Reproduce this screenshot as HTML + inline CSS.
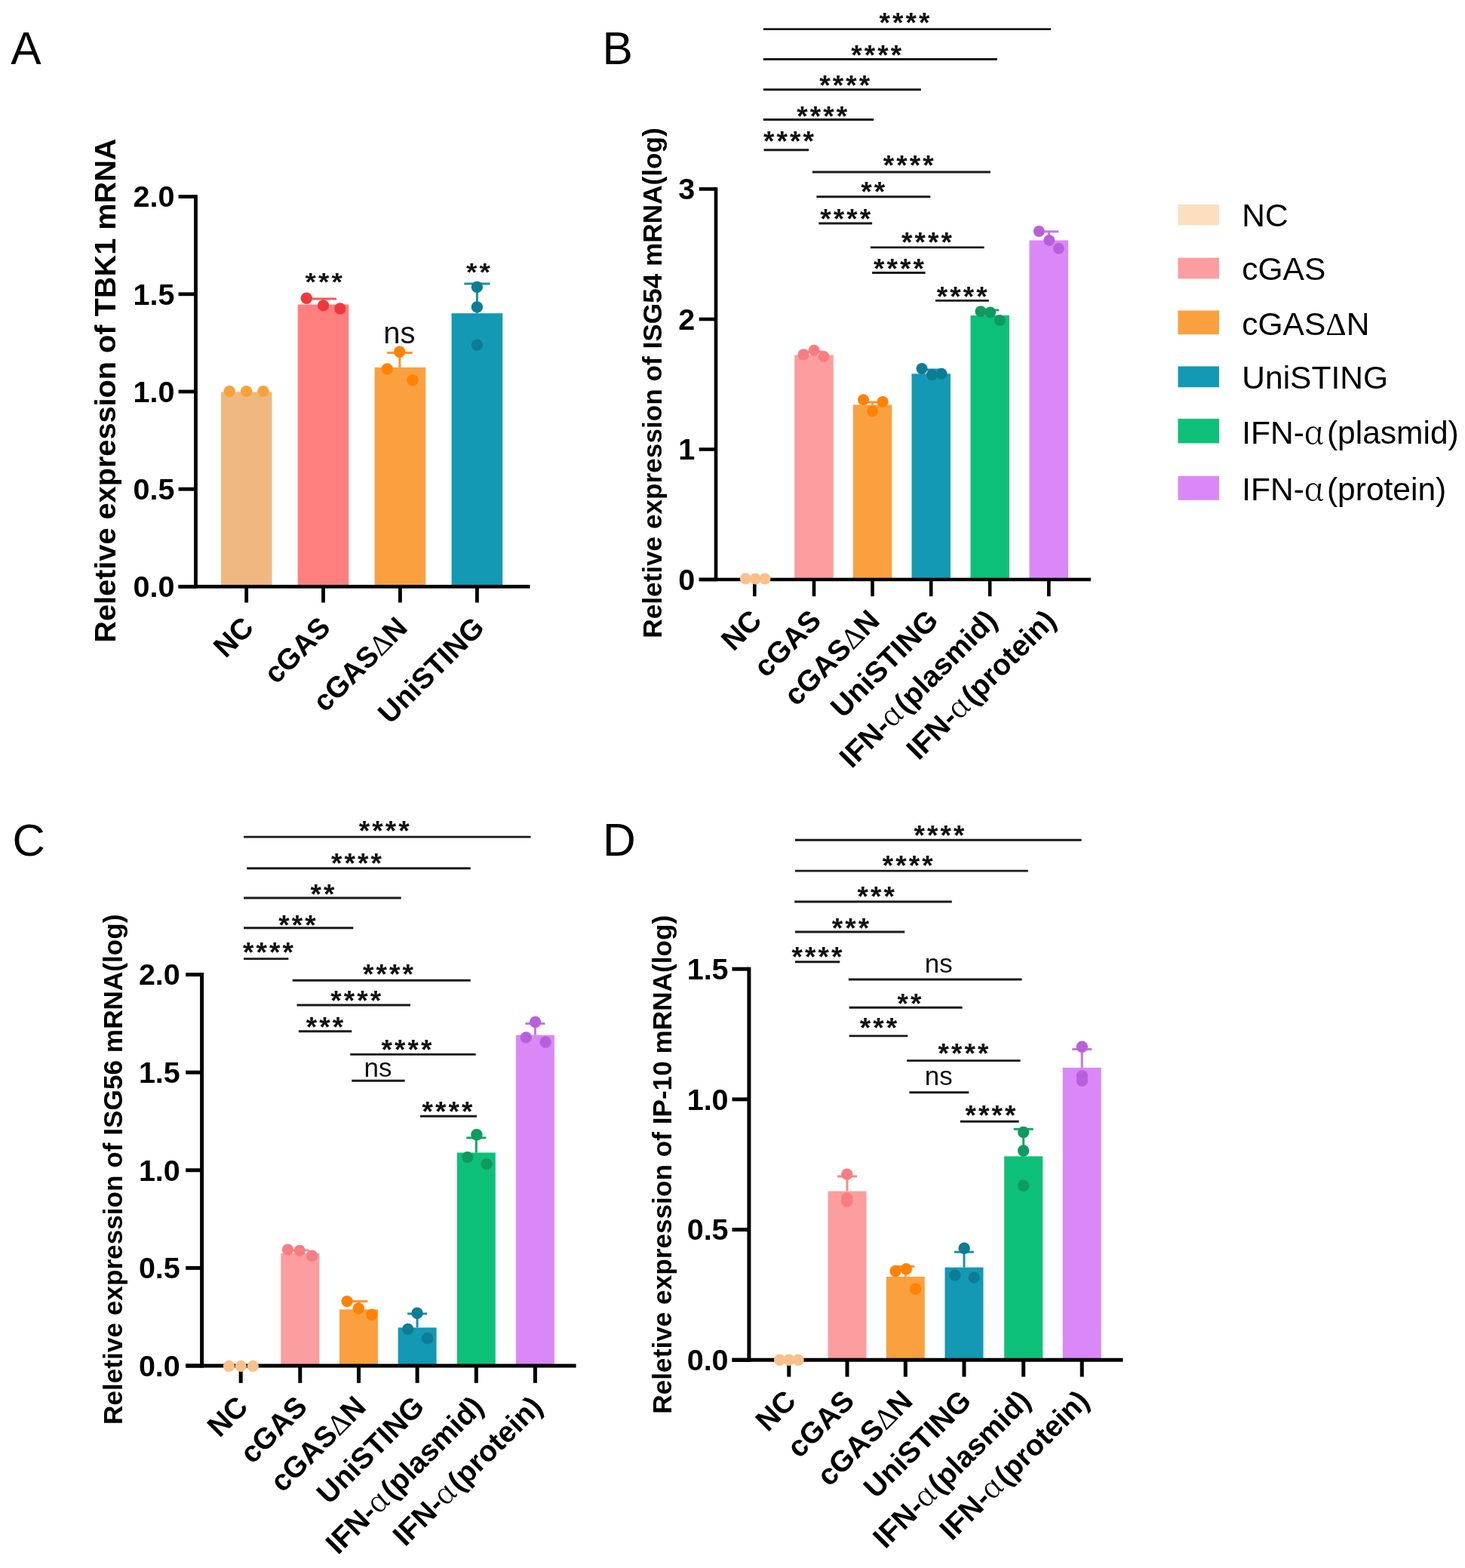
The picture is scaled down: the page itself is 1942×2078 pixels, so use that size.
<!DOCTYPE html>
<html><head><meta charset="utf-8"><title>Figure</title>
<style>html,body{margin:0;padding:0;background:#fff;width:1942px;height:2078px;overflow:hidden}svg{display:block}</style>
</head><body>
<svg width="1942" height="2078" viewBox="0 0 1942 2078" font-family="Liberation Sans, Arial, Helvetica, sans-serif">
<rect width="1942" height="2078" fill="#fff"/>
<rect x="292.9" y="519.5" width="67.6" height="257.9" fill="#F0B880"/>
<rect x="394.7" y="403.6" width="67.6" height="373.8" fill="#FF7F7F"/>
<rect x="496.6" y="486.9" width="67.6" height="290.5" fill="#FBA03F"/>
<rect x="598.6" y="415.2" width="67.6" height="362.2" fill="#1399B3"/>
<line x1="411.0" y1="395.9" x2="446.0" y2="395.9" stroke="#F25A5E" stroke-width="3" stroke-linecap="butt"/>
<line x1="428.5" y1="403.6" x2="428.5" y2="395.9" stroke="#F25A5E" stroke-width="3" stroke-linecap="butt"/>
<line x1="513.1" y1="467.6" x2="546.7" y2="467.6" stroke="#FF9333" stroke-width="3" stroke-linecap="butt"/>
<line x1="529.9" y1="486.9" x2="529.9" y2="467.6" stroke="#FF9333" stroke-width="3" stroke-linecap="butt"/>
<line x1="615.3" y1="375.9" x2="649.5" y2="375.9" stroke="#1E8FA8" stroke-width="3" stroke-linecap="butt"/>
<line x1="632.4" y1="415.2" x2="632.4" y2="375.9" stroke="#1E8FA8" stroke-width="3" stroke-linecap="butt"/>
<line x1="259.5" y1="258.2" x2="259.5" y2="779.8" stroke="#000" stroke-width="4.8" stroke-linecap="butt"/>
<line x1="236.6" y1="777.4" x2="702.5" y2="777.4" stroke="#000" stroke-width="4.8" stroke-linecap="butt"/>
<line x1="236.6" y1="777.4" x2="259.5" y2="777.4" stroke="#000" stroke-width="4.8" stroke-linecap="butt"/>
<text x="231.5" y="791.2" font-size="39.5" font-weight="bold" text-anchor="end" >0.0</text>
<line x1="236.6" y1="648.2" x2="259.5" y2="648.2" stroke="#000" stroke-width="4.8" stroke-linecap="butt"/>
<text x="231.5" y="662.0" font-size="39.5" font-weight="bold" text-anchor="end" >0.5</text>
<line x1="236.6" y1="519.0" x2="259.5" y2="519.0" stroke="#000" stroke-width="4.8" stroke-linecap="butt"/>
<text x="231.5" y="532.8" font-size="39.5" font-weight="bold" text-anchor="end" >1.0</text>
<line x1="236.6" y1="389.8" x2="259.5" y2="389.8" stroke="#000" stroke-width="4.8" stroke-linecap="butt"/>
<text x="231.5" y="403.6" font-size="39.5" font-weight="bold" text-anchor="end" >1.5</text>
<line x1="236.6" y1="260.6" x2="259.5" y2="260.6" stroke="#000" stroke-width="4.8" stroke-linecap="butt"/>
<text x="231.5" y="274.4" font-size="39.5" font-weight="bold" text-anchor="end" >2.0</text>
<line x1="326.7" y1="777.4" x2="326.7" y2="798.6" stroke="#000" stroke-width="4.8" stroke-linecap="butt"/>
<line x1="428.5" y1="777.4" x2="428.5" y2="798.6" stroke="#000" stroke-width="4.8" stroke-linecap="butt"/>
<line x1="530.4" y1="777.4" x2="530.4" y2="798.6" stroke="#000" stroke-width="4.8" stroke-linecap="butt"/>
<line x1="632.4" y1="777.4" x2="632.4" y2="798.6" stroke="#000" stroke-width="4.8" stroke-linecap="butt"/>
<circle cx="304.2" cy="518.6" r="7.7" fill="#F9A23C"/>
<circle cx="326.6" cy="518.6" r="7.7" fill="#F9A23C"/>
<circle cx="349.0" cy="518.6" r="7.7" fill="#F9A23C"/>
<circle cx="406.3" cy="395.2" r="7.7" fill="#F0383C"/>
<circle cx="428.6" cy="404.9" r="7.7" fill="#F0383C"/>
<circle cx="450.8" cy="409.0" r="7.7" fill="#F0383C"/>
<circle cx="513.3" cy="488.9" r="7.7" fill="#FF8205"/>
<circle cx="529.7" cy="466.3" r="7.7" fill="#FF8205"/>
<circle cx="546.9" cy="503.7" r="7.7" fill="#FF8205"/>
<circle cx="632.4" cy="380.4" r="7.7" fill="#0E7C96"/>
<circle cx="632.4" cy="406.9" r="7.7" fill="#0E7C96"/>
<circle cx="632.4" cy="457.2" r="7.7" fill="#0E7C96"/>
<text transform="translate(338.4,833.9) rotate(-45)" font-size="38.5" font-weight="bold" text-anchor="end">NC</text>
<text transform="translate(440.2,833.9) rotate(-45)" font-size="38.5" font-weight="bold" text-anchor="end">cGAS</text>
<text transform="translate(542.1,833.9) rotate(-45)" font-size="38.5" font-weight="bold" text-anchor="end">cGAS<tspan font-weight="normal" font-family="Liberation Serif, serif">Δ</tspan>N</text>
<text transform="translate(644.1,833.9) rotate(-45)" font-size="38.5" font-weight="bold" text-anchor="end">UniSTING</text>
<text transform="translate(152.5,517.6) rotate(-90)" font-size="39.7" font-weight="bold" text-anchor="middle">Reletive expression of TBK1 mRNA</text>
<text transform="translate(430.8,362.3) scale(1,0.88)" y="25.5" font-size="37" font-weight="bold" text-anchor="middle" letter-spacing="3.1" fill="#111">***</text>
<text transform="translate(635.5,349.2) scale(1,0.88)" y="25.5" font-size="37" font-weight="bold" text-anchor="middle" letter-spacing="3.1" fill="#111">**</text>
<text x="529.3" y="454.5" font-size="40" text-anchor="middle" fill="#111">ns</text>
<text x="14.3" y="85.2" font-size="60.5" font-weight="normal" text-anchor="start" >A</text>
<rect x="1053.2" y="470.5" width="51.5" height="297.5" fill="#FC9D9F"/>
<rect x="1130.8" y="536.5" width="51.5" height="231.5" fill="#FBA03F"/>
<rect x="1208.5" y="495.3" width="51.5" height="272.7" fill="#1399B3"/>
<rect x="1286.5" y="418.0" width="51.5" height="350.0" fill="#0DC07A"/>
<rect x="1364.5" y="318.5" width="51.5" height="449.5" fill="#DA88F7"/>
<line x1="1067.0" y1="466.0" x2="1091.0" y2="466.0" stroke="#F98A8F" stroke-width="3" stroke-linecap="butt"/>
<line x1="1079.0" y1="470.5" x2="1079.0" y2="466.0" stroke="#F98A8F" stroke-width="3" stroke-linecap="butt"/>
<line x1="1144.5" y1="533.0" x2="1168.5" y2="533.0" stroke="#FF9333" stroke-width="3" stroke-linecap="butt"/>
<line x1="1156.5" y1="536.5" x2="1156.5" y2="533.0" stroke="#FF9333" stroke-width="3" stroke-linecap="butt"/>
<line x1="1222.2" y1="490.0" x2="1246.2" y2="490.0" stroke="#1E8FA8" stroke-width="3" stroke-linecap="butt"/>
<line x1="1234.2" y1="495.3" x2="1234.2" y2="490.0" stroke="#1E8FA8" stroke-width="3" stroke-linecap="butt"/>
<line x1="1300.2" y1="411.0" x2="1324.2" y2="411.0" stroke="#12A86A" stroke-width="3" stroke-linecap="butt"/>
<line x1="1312.2" y1="418.0" x2="1312.2" y2="411.0" stroke="#12A86A" stroke-width="3" stroke-linecap="butt"/>
<line x1="1377.3" y1="306.9" x2="1403.3" y2="306.9" stroke="#C674E8" stroke-width="3" stroke-linecap="butt"/>
<line x1="1390.3" y1="318.5" x2="1390.3" y2="306.9" stroke="#C674E8" stroke-width="3" stroke-linecap="butt"/>
<line x1="949.0" y1="248.2" x2="949.0" y2="770.3" stroke="#000" stroke-width="4.6" stroke-linecap="butt"/>
<line x1="926.7" y1="768.0" x2="1446.0" y2="768.0" stroke="#000" stroke-width="4.6" stroke-linecap="butt"/>
<line x1="926.7" y1="768.0" x2="949.0" y2="768.0" stroke="#000" stroke-width="4.6" stroke-linecap="butt"/>
<text x="921.3" y="781.8" font-size="39.5" font-weight="bold" text-anchor="end" >0</text>
<line x1="926.7" y1="595.5" x2="949.0" y2="595.5" stroke="#000" stroke-width="4.6" stroke-linecap="butt"/>
<text x="921.3" y="609.3" font-size="39.5" font-weight="bold" text-anchor="end" >1</text>
<line x1="926.7" y1="423.0" x2="949.0" y2="423.0" stroke="#000" stroke-width="4.6" stroke-linecap="butt"/>
<text x="921.3" y="436.8" font-size="39.5" font-weight="bold" text-anchor="end" >2</text>
<line x1="926.7" y1="250.5" x2="949.0" y2="250.5" stroke="#000" stroke-width="4.6" stroke-linecap="butt"/>
<text x="921.3" y="264.3" font-size="39.5" font-weight="bold" text-anchor="end" >3</text>
<line x1="1000.3" y1="768.0" x2="1000.3" y2="790.3" stroke="#000" stroke-width="4.6" stroke-linecap="butt"/>
<line x1="1079.0" y1="768.0" x2="1079.0" y2="790.3" stroke="#000" stroke-width="4.6" stroke-linecap="butt"/>
<line x1="1156.5" y1="768.0" x2="1156.5" y2="790.3" stroke="#000" stroke-width="4.6" stroke-linecap="butt"/>
<line x1="1234.2" y1="768.0" x2="1234.2" y2="790.3" stroke="#000" stroke-width="4.6" stroke-linecap="butt"/>
<line x1="1312.2" y1="768.0" x2="1312.2" y2="790.3" stroke="#000" stroke-width="4.6" stroke-linecap="butt"/>
<line x1="1390.3" y1="768.0" x2="1390.3" y2="790.3" stroke="#000" stroke-width="4.6" stroke-linecap="butt"/>
<circle cx="988.4" cy="767.0" r="7.5" fill="#F9C08A"/>
<circle cx="1001.4" cy="767.0" r="7.5" fill="#F9C08A"/>
<circle cx="1014.0" cy="767.0" r="7.5" fill="#F9C08A"/>
<circle cx="1065.1" cy="469.7" r="7.5" fill="#F77D83"/>
<circle cx="1079.1" cy="464.3" r="7.5" fill="#F77D83"/>
<circle cx="1092.0" cy="472.4" r="7.5" fill="#F77D83"/>
<circle cx="1144.5" cy="529.7" r="7.5" fill="#FF8205"/>
<circle cx="1170.1" cy="532.4" r="7.5" fill="#FF8205"/>
<circle cx="1156.6" cy="545.0" r="7.5" fill="#FF8205"/>
<circle cx="1222.0" cy="488.6" r="7.5" fill="#0E7C96"/>
<circle cx="1235.5" cy="496.6" r="7.5" fill="#0E7C96"/>
<circle cx="1248.1" cy="495.3" r="7.5" fill="#0E7C96"/>
<circle cx="1300.0" cy="412.7" r="7.5" fill="#0F9A5F"/>
<circle cx="1312.7" cy="414.0" r="7.5" fill="#0F9A5F"/>
<circle cx="1325.4" cy="424.5" r="7.5" fill="#0F9A5F"/>
<circle cx="1377.3" cy="306.4" r="7.5" fill="#B860DC"/>
<circle cx="1390.8" cy="318.5" r="7.5" fill="#B860DC"/>
<circle cx="1403.4" cy="329.2" r="7.5" fill="#B860DC"/>
<text transform="translate(1012.0,824.5) rotate(-45)" font-size="39" font-weight="bold" text-anchor="end">NC</text>
<text transform="translate(1090.7,824.5) rotate(-45)" font-size="39" font-weight="bold" text-anchor="end">cGAS</text>
<text transform="translate(1168.2,824.5) rotate(-45)" font-size="39" font-weight="bold" text-anchor="end">cGAS<tspan font-weight="normal" font-family="Liberation Serif, serif">Δ</tspan>N</text>
<text transform="translate(1245.9,824.5) rotate(-45)" font-size="39" font-weight="bold" text-anchor="end">UniSTING</text>
<text transform="translate(1323.9,824.5) rotate(-45)" font-size="39" font-weight="bold" text-anchor="end">IFN-<tspan font-weight="normal" font-family="Noto Serif CJK SC, Liberation Serif, serif" letter-spacing="2.6">α</tspan>(plasmid)</text>
<text transform="translate(1402.0,824.5) rotate(-45)" font-size="39" font-weight="bold" text-anchor="end">IFN-<tspan font-weight="normal" font-family="Noto Serif CJK SC, Liberation Serif, serif" letter-spacing="2.6">α</tspan>(protein)</text>
<text transform="translate(876.8,507.5) rotate(-90)" font-size="35.2" font-weight="bold" text-anchor="middle">Reletive expression of ISG54 mRNA(log)</text>
<line x1="1011.8" y1="38.6" x2="1393.2" y2="38.6" stroke="#1a1a1a" stroke-width="2.9" stroke-linecap="butt"/>
<text x="1200.5" y="42.7" font-size="37" font-weight="bold" text-anchor="middle" letter-spacing="3.1" fill="#111">****</text>
<line x1="1011.8" y1="78.5" x2="1321.9" y2="78.5" stroke="#1a1a1a" stroke-width="2.9" stroke-linecap="butt"/>
<text x="1163.3" y="85.8" font-size="37" font-weight="bold" text-anchor="middle" letter-spacing="3.1" fill="#111">****</text>
<line x1="1011.8" y1="118.8" x2="1220.9" y2="118.8" stroke="#1a1a1a" stroke-width="2.9" stroke-linecap="butt"/>
<text x="1121.2" y="126.1" font-size="37" font-weight="bold" text-anchor="middle" letter-spacing="3.1" fill="#111">****</text>
<line x1="1011.8" y1="158.5" x2="1158.2" y2="158.5" stroke="#1a1a1a" stroke-width="2.9" stroke-linecap="butt"/>
<text x="1091.2" y="166.7" font-size="37" font-weight="bold" text-anchor="middle" letter-spacing="3.1" fill="#111">****</text>
<line x1="1012.5" y1="198.8" x2="1072.1" y2="198.8" stroke="#1a1a1a" stroke-width="2.9" stroke-linecap="butt"/>
<text x="1047.0" y="199.5" font-size="37" font-weight="bold" text-anchor="middle" letter-spacing="3.1" fill="#111">****</text>
<line x1="1076.9" y1="228.0" x2="1312.9" y2="228.0" stroke="#1a1a1a" stroke-width="2.9" stroke-linecap="butt"/>
<text x="1205.8" y="232.2" font-size="37" font-weight="bold" text-anchor="middle" letter-spacing="3.1" fill="#111">****</text>
<line x1="1082.4" y1="260.8" x2="1233.3" y2="260.8" stroke="#1a1a1a" stroke-width="2.9" stroke-linecap="butt"/>
<text x="1158.8" y="266.5" font-size="37" font-weight="bold" text-anchor="middle" letter-spacing="3.1" fill="#111">**</text>
<line x1="1085.3" y1="296.0" x2="1156.1" y2="296.0" stroke="#1a1a1a" stroke-width="2.9" stroke-linecap="butt"/>
<text x="1122.2" y="302.8" font-size="37" font-weight="bold" text-anchor="middle" letter-spacing="3.1" fill="#111">****</text>
<line x1="1153.9" y1="327.9" x2="1304.6" y2="327.9" stroke="#1a1a1a" stroke-width="2.9" stroke-linecap="butt"/>
<text x="1230.1" y="333.5" font-size="37" font-weight="bold" text-anchor="middle" letter-spacing="3.1" fill="#111">****</text>
<line x1="1156.1" y1="361.5" x2="1226.6" y2="361.5" stroke="#1a1a1a" stroke-width="2.9" stroke-linecap="butt"/>
<text x="1193.1" y="368.7" font-size="37" font-weight="bold" text-anchor="middle" letter-spacing="3.1" fill="#111">****</text>
<line x1="1240.0" y1="398.4" x2="1310.8" y2="398.4" stroke="#1a1a1a" stroke-width="2.9" stroke-linecap="butt"/>
<text x="1276.8" y="405.6" font-size="37" font-weight="bold" text-anchor="middle" letter-spacing="3.1" fill="#111">****</text>
<text x="798.4" y="85.2" font-size="60.5" font-weight="normal" text-anchor="start" >B</text>
<rect x="372.3" y="1661.0" width="51.0" height="149.0" fill="#FC9D9F"/>
<rect x="450.0" y="1735.3" width="51.0" height="74.7" fill="#FBA03F"/>
<rect x="527.6" y="1759.4" width="51.0" height="50.6" fill="#1399B3"/>
<rect x="605.8" y="1527.5" width="51.0" height="282.5" fill="#0DC07A"/>
<rect x="683.9" y="1371.7" width="51.0" height="438.3" fill="#DA88F7"/>
<line x1="385.8" y1="1657.0" x2="409.8" y2="1657.0" stroke="#F98A8F" stroke-width="3" stroke-linecap="butt"/>
<line x1="397.8" y1="1661.0" x2="397.8" y2="1657.0" stroke="#F98A8F" stroke-width="3" stroke-linecap="butt"/>
<line x1="463.5" y1="1724.6" x2="487.5" y2="1724.6" stroke="#FF9333" stroke-width="3" stroke-linecap="butt"/>
<line x1="475.5" y1="1735.3" x2="475.5" y2="1724.6" stroke="#FF9333" stroke-width="3" stroke-linecap="butt"/>
<line x1="540.1" y1="1741.0" x2="566.1" y2="1741.0" stroke="#1E8FA8" stroke-width="3" stroke-linecap="butt"/>
<line x1="553.1" y1="1759.4" x2="553.1" y2="1741.0" stroke="#1E8FA8" stroke-width="3" stroke-linecap="butt"/>
<line x1="618.3" y1="1507.9" x2="644.3" y2="1507.9" stroke="#12A86A" stroke-width="3" stroke-linecap="butt"/>
<line x1="631.3" y1="1527.5" x2="631.3" y2="1507.9" stroke="#12A86A" stroke-width="3" stroke-linecap="butt"/>
<line x1="696.4" y1="1356.5" x2="722.4" y2="1356.5" stroke="#C674E8" stroke-width="3" stroke-linecap="butt"/>
<line x1="709.4" y1="1371.7" x2="709.4" y2="1356.5" stroke="#C674E8" stroke-width="3" stroke-linecap="butt"/>
<line x1="267.6" y1="1289.1" x2="267.6" y2="1812.5" stroke="#000" stroke-width="5" stroke-linecap="butt"/>
<line x1="246.2" y1="1810.0" x2="763.6" y2="1810.0" stroke="#000" stroke-width="5" stroke-linecap="butt"/>
<line x1="246.2" y1="1810.0" x2="267.6" y2="1810.0" stroke="#000" stroke-width="5" stroke-linecap="butt"/>
<text x="238.8" y="1823.8" font-size="39.5" font-weight="bold" text-anchor="end" >0.0</text>
<line x1="246.2" y1="1680.4" x2="267.6" y2="1680.4" stroke="#000" stroke-width="5" stroke-linecap="butt"/>
<text x="238.8" y="1694.2" font-size="39.5" font-weight="bold" text-anchor="end" >0.5</text>
<line x1="246.2" y1="1550.8" x2="267.6" y2="1550.8" stroke="#000" stroke-width="5" stroke-linecap="butt"/>
<text x="238.8" y="1564.6" font-size="39.5" font-weight="bold" text-anchor="end" >1.0</text>
<line x1="246.2" y1="1421.2" x2="267.6" y2="1421.2" stroke="#000" stroke-width="5" stroke-linecap="butt"/>
<text x="238.8" y="1435.0" font-size="39.5" font-weight="bold" text-anchor="end" >1.5</text>
<line x1="246.2" y1="1291.6" x2="267.6" y2="1291.6" stroke="#000" stroke-width="5" stroke-linecap="butt"/>
<text x="238.8" y="1305.4" font-size="39.5" font-weight="bold" text-anchor="end" >2.0</text>
<line x1="319.2" y1="1810.0" x2="319.2" y2="1832.8" stroke="#000" stroke-width="5" stroke-linecap="butt"/>
<line x1="397.8" y1="1810.0" x2="397.8" y2="1832.8" stroke="#000" stroke-width="5" stroke-linecap="butt"/>
<line x1="475.5" y1="1810.0" x2="475.5" y2="1832.8" stroke="#000" stroke-width="5" stroke-linecap="butt"/>
<line x1="553.1" y1="1810.0" x2="553.1" y2="1832.8" stroke="#000" stroke-width="5" stroke-linecap="butt"/>
<line x1="631.3" y1="1810.0" x2="631.3" y2="1832.8" stroke="#000" stroke-width="5" stroke-linecap="butt"/>
<line x1="709.4" y1="1810.0" x2="709.4" y2="1832.8" stroke="#000" stroke-width="5" stroke-linecap="butt"/>
<circle cx="303.5" cy="1810.4" r="7.7" fill="#F9C08A"/>
<circle cx="319.2" cy="1810.4" r="7.7" fill="#F9C08A"/>
<circle cx="335.3" cy="1810.4" r="7.7" fill="#F9C08A"/>
<circle cx="381.5" cy="1656.1" r="7.7" fill="#F77D83"/>
<circle cx="397.2" cy="1657.4" r="7.7" fill="#F77D83"/>
<circle cx="413.6" cy="1664.2" r="7.7" fill="#F77D83"/>
<circle cx="460.1" cy="1724.6" r="7.7" fill="#FF8205"/>
<circle cx="475.3" cy="1734.0" r="7.7" fill="#FF8205"/>
<circle cx="492.8" cy="1742.2" r="7.7" fill="#FF8205"/>
<circle cx="540.7" cy="1761.4" r="7.7" fill="#0E7C96"/>
<circle cx="553.0" cy="1740.2" r="7.7" fill="#0E7C96"/>
<circle cx="566.5" cy="1773.7" r="7.7" fill="#0E7C96"/>
<circle cx="619.6" cy="1533.6" r="7.7" fill="#0F9A5F"/>
<circle cx="631.9" cy="1503.8" r="7.7" fill="#0F9A5F"/>
<circle cx="645.0" cy="1542.6" r="7.7" fill="#0F9A5F"/>
<circle cx="697.3" cy="1374.9" r="7.7" fill="#B860DC"/>
<circle cx="709.6" cy="1354.5" r="7.7" fill="#B860DC"/>
<circle cx="723.1" cy="1381.0" r="7.7" fill="#B860DC"/>
<text transform="translate(330.9,1866.5) rotate(-45)" font-size="39" font-weight="bold" text-anchor="end">NC</text>
<text transform="translate(409.5,1866.5) rotate(-45)" font-size="39" font-weight="bold" text-anchor="end">cGAS</text>
<text transform="translate(487.2,1866.5) rotate(-45)" font-size="39" font-weight="bold" text-anchor="end">cGAS<tspan font-weight="normal" font-family="Liberation Serif, serif">Δ</tspan>N</text>
<text transform="translate(564.8,1866.5) rotate(-45)" font-size="39" font-weight="bold" text-anchor="end">UniSTING</text>
<text transform="translate(643.0,1866.5) rotate(-45)" font-size="39" font-weight="bold" text-anchor="end">IFN-<tspan font-weight="normal" font-family="Noto Serif CJK SC, Liberation Serif, serif" letter-spacing="2.6">α</tspan>(plasmid)</text>
<text transform="translate(721.1,1866.5) rotate(-45)" font-size="39" font-weight="bold" text-anchor="end">IFN-<tspan font-weight="normal" font-family="Noto Serif CJK SC, Liberation Serif, serif" letter-spacing="2.6">α</tspan>(protein)</text>
<text transform="translate(161.5,1549.7) rotate(-90)" font-size="35.2" font-weight="bold" text-anchor="middle">Reletive expression of ISG56 mRNA(log)</text>
<line x1="323.1" y1="1109.1" x2="703.5" y2="1109.1" stroke="#1a1a1a" stroke-width="2.9" stroke-linecap="butt"/>
<text x="510.8" y="1114.1" font-size="37" font-weight="bold" text-anchor="middle" letter-spacing="3.1" fill="#111">****</text>
<line x1="327.2" y1="1150.8" x2="623.7" y2="1150.8" stroke="#1a1a1a" stroke-width="2.9" stroke-linecap="butt"/>
<text x="473.9" y="1157.1" font-size="37" font-weight="bold" text-anchor="middle" letter-spacing="3.1" fill="#111">****</text>
<line x1="323.1" y1="1190.0" x2="531.7" y2="1190.0" stroke="#1a1a1a" stroke-width="2.9" stroke-linecap="butt"/>
<text x="428.9" y="1198.0" font-size="37" font-weight="bold" text-anchor="middle" letter-spacing="3.1" fill="#111">**</text>
<line x1="323.1" y1="1229.7" x2="468.3" y2="1229.7" stroke="#1a1a1a" stroke-width="2.9" stroke-linecap="butt"/>
<text x="395.4" y="1238.9" font-size="37" font-weight="bold" text-anchor="middle" letter-spacing="3.1" fill="#111">***</text>
<line x1="323.1" y1="1270.6" x2="382.4" y2="1270.6" stroke="#1a1a1a" stroke-width="2.9" stroke-linecap="butt"/>
<text x="356.9" y="1274.5" font-size="37" font-weight="bold" text-anchor="middle" letter-spacing="3.1" fill="#111">****</text>
<line x1="387.7" y1="1299.3" x2="623.7" y2="1299.3" stroke="#1a1a1a" stroke-width="2.9" stroke-linecap="butt"/>
<text x="516.0" y="1304.3" font-size="37" font-weight="bold" text-anchor="middle" letter-spacing="3.1" fill="#111">****</text>
<line x1="393.5" y1="1332.0" x2="544.0" y2="1332.0" stroke="#1a1a1a" stroke-width="2.9" stroke-linecap="butt"/>
<text x="473.2" y="1339.1" font-size="37" font-weight="bold" text-anchor="middle" letter-spacing="3.1" fill="#111">****</text>
<line x1="395.9" y1="1366.7" x2="466.3" y2="1366.7" stroke="#1a1a1a" stroke-width="2.9" stroke-linecap="butt"/>
<text x="431.9" y="1373.8" font-size="37" font-weight="bold" text-anchor="middle" letter-spacing="3.1" fill="#111">***</text>
<line x1="464.2" y1="1397.4" x2="630.7" y2="1397.4" stroke="#1a1a1a" stroke-width="2.9" stroke-linecap="butt"/>
<text x="540.6" y="1403.7" font-size="37" font-weight="bold" text-anchor="middle" letter-spacing="3.1" fill="#111">****</text>
<line x1="466.3" y1="1432.2" x2="536.6" y2="1432.2" stroke="#1a1a1a" stroke-width="2.9" stroke-linecap="butt"/>
<text x="501.0" y="1427.3" font-size="35" text-anchor="middle" fill="#111">ns</text>
<line x1="557.0" y1="1479.2" x2="631.9" y2="1479.2" stroke="#1a1a1a" stroke-width="2.9" stroke-linecap="butt"/>
<text x="594.5" y="1485.5" font-size="37" font-weight="bold" text-anchor="middle" letter-spacing="3.1" fill="#111">****</text>
<text x="16.6" y="1134.2" font-size="60" font-weight="normal" text-anchor="start" >C</text>
<rect x="1097.5" y="1578.6" width="51.0" height="223.7" fill="#FC9D9F"/>
<rect x="1174.8" y="1691.9" width="51.0" height="110.4" fill="#FBA03F"/>
<rect x="1252.5" y="1679.6" width="51.0" height="122.7" fill="#1399B3"/>
<rect x="1331.2" y="1532.4" width="51.0" height="269.9" fill="#0DC07A"/>
<rect x="1408.7" y="1415.0" width="51.0" height="387.3" fill="#DA88F7"/>
<line x1="1110.0" y1="1559.0" x2="1136.0" y2="1559.0" stroke="#F98A8F" stroke-width="3" stroke-linecap="butt"/>
<line x1="1123.0" y1="1578.6" x2="1123.0" y2="1559.0" stroke="#F98A8F" stroke-width="3" stroke-linecap="butt"/>
<line x1="1188.3" y1="1678.4" x2="1212.3" y2="1678.4" stroke="#FF9333" stroke-width="3" stroke-linecap="butt"/>
<line x1="1200.3" y1="1691.9" x2="1200.3" y2="1678.4" stroke="#FF9333" stroke-width="3" stroke-linecap="butt"/>
<line x1="1265.0" y1="1659.2" x2="1291.0" y2="1659.2" stroke="#1E8FA8" stroke-width="3" stroke-linecap="butt"/>
<line x1="1278.0" y1="1679.6" x2="1278.0" y2="1659.2" stroke="#1E8FA8" stroke-width="3" stroke-linecap="butt"/>
<line x1="1343.7" y1="1496.4" x2="1369.7" y2="1496.4" stroke="#12A86A" stroke-width="3" stroke-linecap="butt"/>
<line x1="1356.7" y1="1532.4" x2="1356.7" y2="1496.4" stroke="#12A86A" stroke-width="3" stroke-linecap="butt"/>
<line x1="1421.2" y1="1390.5" x2="1447.2" y2="1390.5" stroke="#C674E8" stroke-width="3" stroke-linecap="butt"/>
<line x1="1434.2" y1="1415.0" x2="1434.2" y2="1390.5" stroke="#C674E8" stroke-width="3" stroke-linecap="butt"/>
<line x1="992.9" y1="1281.7" x2="992.9" y2="1804.8" stroke="#000" stroke-width="5" stroke-linecap="butt"/>
<line x1="970.5" y1="1802.3" x2="1488.5" y2="1802.3" stroke="#000" stroke-width="5" stroke-linecap="butt"/>
<line x1="970.5" y1="1802.3" x2="992.9" y2="1802.3" stroke="#000" stroke-width="5" stroke-linecap="butt"/>
<text x="965.6" y="1816.1" font-size="39.5" font-weight="bold" text-anchor="end" >0.0</text>
<line x1="970.5" y1="1629.6" x2="992.9" y2="1629.6" stroke="#000" stroke-width="5" stroke-linecap="butt"/>
<text x="965.6" y="1643.4" font-size="39.5" font-weight="bold" text-anchor="end" >0.5</text>
<line x1="970.5" y1="1456.9" x2="992.9" y2="1456.9" stroke="#000" stroke-width="5" stroke-linecap="butt"/>
<text x="965.6" y="1470.7" font-size="39.5" font-weight="bold" text-anchor="end" >1.0</text>
<line x1="970.5" y1="1284.2" x2="992.9" y2="1284.2" stroke="#000" stroke-width="5" stroke-linecap="butt"/>
<text x="965.6" y="1298.0" font-size="39.5" font-weight="bold" text-anchor="end" >1.5</text>
<line x1="1045.8" y1="1802.3" x2="1045.8" y2="1824.6" stroke="#000" stroke-width="5" stroke-linecap="butt"/>
<line x1="1123.0" y1="1802.3" x2="1123.0" y2="1824.6" stroke="#000" stroke-width="5" stroke-linecap="butt"/>
<line x1="1200.3" y1="1802.3" x2="1200.3" y2="1824.6" stroke="#000" stroke-width="5" stroke-linecap="butt"/>
<line x1="1278.0" y1="1802.3" x2="1278.0" y2="1824.6" stroke="#000" stroke-width="5" stroke-linecap="butt"/>
<line x1="1356.7" y1="1802.3" x2="1356.7" y2="1824.6" stroke="#000" stroke-width="5" stroke-linecap="butt"/>
<line x1="1434.2" y1="1802.3" x2="1434.2" y2="1824.6" stroke="#000" stroke-width="5" stroke-linecap="butt"/>
<circle cx="1033.6" cy="1802.3" r="7.7" fill="#F9C08A"/>
<circle cx="1045.8" cy="1802.3" r="7.7" fill="#F9C08A"/>
<circle cx="1058.1" cy="1802.3" r="7.7" fill="#F9C08A"/>
<circle cx="1122.7" cy="1556.1" r="7.7" fill="#F77D83"/>
<circle cx="1122.7" cy="1591.7" r="7.7" fill="#F77D83"/>
<circle cx="1122.7" cy="1588.0" r="7.7" fill="#F77D83"/>
<circle cx="1187.0" cy="1684.5" r="7.7" fill="#FF8205"/>
<circle cx="1201.3" cy="1681.7" r="7.7" fill="#FF8205"/>
<circle cx="1213.5" cy="1708.3" r="7.7" fill="#FF8205"/>
<circle cx="1278.2" cy="1654.3" r="7.7" fill="#0E7C96"/>
<circle cx="1265.9" cy="1689.9" r="7.7" fill="#0E7C96"/>
<circle cx="1291.3" cy="1693.1" r="7.7" fill="#0E7C96"/>
<circle cx="1356.7" cy="1500.5" r="7.7" fill="#0F9A5F"/>
<circle cx="1356.7" cy="1525.0" r="7.7" fill="#0F9A5F"/>
<circle cx="1356.7" cy="1571.3" r="7.7" fill="#0F9A5F"/>
<circle cx="1434.4" cy="1387.2" r="7.7" fill="#B860DC"/>
<circle cx="1434.4" cy="1426.0" r="7.7" fill="#B860DC"/>
<circle cx="1434.4" cy="1432.2" r="7.7" fill="#B860DC"/>
<text transform="translate(1057.5,1858.8) rotate(-45)" font-size="39" font-weight="bold" text-anchor="end">NC</text>
<text transform="translate(1134.7,1858.8) rotate(-45)" font-size="39" font-weight="bold" text-anchor="end">cGAS</text>
<text transform="translate(1212.0,1858.8) rotate(-45)" font-size="39" font-weight="bold" text-anchor="end">cGAS<tspan font-weight="normal" font-family="Liberation Serif, serif">Δ</tspan>N</text>
<text transform="translate(1289.7,1858.8) rotate(-45)" font-size="39" font-weight="bold" text-anchor="end">UniSTING</text>
<text transform="translate(1368.4,1858.8) rotate(-45)" font-size="39" font-weight="bold" text-anchor="end">IFN-<tspan font-weight="normal" font-family="Noto Serif CJK SC, Liberation Serif, serif" letter-spacing="2.6">α</tspan>(plasmid)</text>
<text transform="translate(1445.9,1858.8) rotate(-45)" font-size="39" font-weight="bold" text-anchor="end">IFN-<tspan font-weight="normal" font-family="Noto Serif CJK SC, Liberation Serif, serif" letter-spacing="2.6">α</tspan>(protein)</text>
<text transform="translate(889.7,1543.2) rotate(-90)" font-size="35.2" font-weight="bold" text-anchor="middle">Reletive expression of IP-10 mRNA(log)</text>
<line x1="1054.0" y1="1113.2" x2="1433.6" y2="1113.2" stroke="#1a1a1a" stroke-width="2.9" stroke-linecap="butt"/>
<text x="1246.5" y="1120.3" font-size="37" font-weight="bold" text-anchor="middle" letter-spacing="3.1" fill="#111">****</text>
<line x1="1054.0" y1="1154.1" x2="1362.8" y2="1154.1" stroke="#1a1a1a" stroke-width="2.9" stroke-linecap="butt"/>
<text x="1204.8" y="1160.3" font-size="37" font-weight="bold" text-anchor="middle" letter-spacing="3.1" fill="#111">****</text>
<line x1="1053.2" y1="1195.0" x2="1261.8" y2="1195.0" stroke="#1a1a1a" stroke-width="2.9" stroke-linecap="butt"/>
<text x="1162.8" y="1200.8" font-size="37" font-weight="bold" text-anchor="middle" letter-spacing="3.1" fill="#111">***</text>
<line x1="1054.0" y1="1235.0" x2="1199.2" y2="1235.0" stroke="#1a1a1a" stroke-width="2.9" stroke-linecap="butt"/>
<text x="1129.1" y="1243.0" font-size="37" font-weight="bold" text-anchor="middle" letter-spacing="3.1" fill="#111">***</text>
<line x1="1054.0" y1="1274.7" x2="1113.3" y2="1274.7" stroke="#1a1a1a" stroke-width="2.9" stroke-linecap="butt"/>
<text x="1084.6" y="1281.0" font-size="37" font-weight="bold" text-anchor="middle" letter-spacing="3.1" fill="#111">****</text>
<line x1="1124.8" y1="1298.0" x2="1354.6" y2="1298.0" stroke="#1a1a1a" stroke-width="2.9" stroke-linecap="butt"/>
<text x="1244.2" y="1288.5" font-size="35" text-anchor="middle" fill="#111">ns</text>
<line x1="1125.6" y1="1335.3" x2="1275.7" y2="1335.3" stroke="#1a1a1a" stroke-width="2.9" stroke-linecap="butt"/>
<text x="1207.0" y="1343.2" font-size="37" font-weight="bold" text-anchor="middle" letter-spacing="3.1" fill="#111">**</text>
<line x1="1125.6" y1="1372.9" x2="1203.3" y2="1372.9" stroke="#1a1a1a" stroke-width="2.9" stroke-linecap="butt"/>
<text x="1166.0" y="1375.1" font-size="37" font-weight="bold" text-anchor="middle" letter-spacing="3.1" fill="#111">***</text>
<line x1="1202.1" y1="1405.6" x2="1352.6" y2="1405.6" stroke="#1a1a1a" stroke-width="2.9" stroke-linecap="butt"/>
<text x="1278.5" y="1409.4" font-size="37" font-weight="bold" text-anchor="middle" letter-spacing="3.1" fill="#111">****</text>
<line x1="1205.4" y1="1447.7" x2="1284.3" y2="1447.7" stroke="#1a1a1a" stroke-width="2.9" stroke-linecap="butt"/>
<text x="1244.2" y="1437.8" font-size="35" text-anchor="middle" fill="#111">ns</text>
<line x1="1272.8" y1="1486.2" x2="1350.6" y2="1486.2" stroke="#1a1a1a" stroke-width="2.9" stroke-linecap="butt"/>
<text x="1314.5" y="1491.2" font-size="37" font-weight="bold" text-anchor="middle" letter-spacing="3.1" fill="#111">****</text>
<text x="799.0" y="1133.8" font-size="60.5" font-weight="normal" text-anchor="start" >D</text>
<rect x="1561.5" y="271.0" width="54.5" height="27.4" fill="#FDDFC0"/>
<text x="1646.3" y="300.2" font-size="42.5" font-weight="normal">NC</text>
<rect x="1561.5" y="341.6" width="54.5" height="27.7" fill="#FC9D9F"/>
<text x="1646.3" y="370.6" font-size="42.5" font-weight="normal">cGAS</text>
<rect x="1561.5" y="411.5" width="54.5" height="31.7" fill="#FBA03F"/>
<text x="1646.3" y="444.2" font-size="42.5" font-weight="normal">cGAS<tspan font-weight="normal" font-family="Liberation Serif, serif">Δ</tspan>N</text>
<rect x="1561.5" y="485.5" width="54.5" height="27.7" fill="#1399B3"/>
<text x="1646.3" y="514.6" font-size="42.5" font-weight="normal">UniSTING</text>
<rect x="1561.5" y="554.9" width="54.5" height="32.5" fill="#0DC07A"/>
<text x="1646.3" y="587.8" font-size="42.5" font-weight="normal">IFN-<tspan font-weight="normal" font-family="Noto Serif CJK SC, Liberation Serif, serif" letter-spacing="4">α</tspan>(plasmid)</text>
<rect x="1561.5" y="630.8" width="54.5" height="32.0" fill="#DA88F7"/>
<text x="1646.3" y="662.6" font-size="42.5" font-weight="normal">IFN-<tspan font-weight="normal" font-family="Noto Serif CJK SC, Liberation Serif, serif" letter-spacing="4">α</tspan>(protein)</text>
</svg>
</body></html>
